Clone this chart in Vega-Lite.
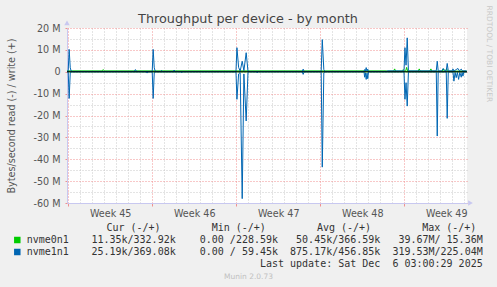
{
  "$schema": "https://vega.github.io/schema/vega-lite/v6.json",
  "width": 400,
  "height": 175,
  "autosize": "none",
  "padding": {"left": 67, "top": 28, "right": 30, "bottom": 84},
  "background": "#f0f0f0",
  "config": {"view": {"stroke": null, "fill": "#ffffff"}, "font": "DejaVu Sans"},
  "title": {"text": "Throughput per device - by month", "font": "DejaVu Sans", "fontSize": 12.8, "fontWeight": "normal", "color": "#444444", "anchor": "middle", "frame": "group", "dx": -19, "dy": 25, "offset": 4},
  "datasets": {
    "series": [
      {"s": "nvme0n1", "d": "write", "day": -0.1, "v": 0.4},
      {"s": "nvme0n1", "d": "write", "day": 2.85, "v": 0.4},
      {"s": "nvme0n1", "d": "write", "day": 2.92, "v": 1.0},
      {"s": "nvme0n1", "d": "write", "day": 3.0, "v": 0.4},
      {"s": "nvme0n1", "d": "write", "day": 26.5, "v": 0.4},
      {"s": "nvme0n1", "d": "write", "day": 26.6, "v": 0.3},
      {"s": "nvme0n1", "d": "write", "day": 27.12, "v": 0.3},
      {"s": "nvme0n1", "d": "write", "day": 27.2, "v": 1.3},
      {"s": "nvme0n1", "d": "write", "day": 27.28, "v": 0.3},
      {"s": "nvme0n1", "d": "write", "day": 27.85, "v": 0.3},
      {"s": "nvme0n1", "d": "write", "day": 27.92, "v": 1.0},
      {"s": "nvme0n1", "d": "write", "day": 28.0, "v": 0.3},
      {"s": "nvme0n1", "d": "write", "day": 28.12, "v": 0.3},
      {"s": "nvme0n1", "d": "write", "day": 28.2, "v": 2.0},
      {"s": "nvme0n1", "d": "write", "day": 28.28, "v": 0.3},
      {"s": "nvme0n1", "d": "write", "day": 29.17, "v": 0.3},
      {"s": "nvme0n1", "d": "write", "day": 29.25, "v": 1.3},
      {"s": "nvme0n1", "d": "write", "day": 29.33, "v": 0.3},
      {"s": "nvme0n1", "d": "write", "day": 30.14, "v": 0.3},
      {"s": "nvme0n1", "d": "write", "day": 30.22, "v": 1.3},
      {"s": "nvme0n1", "d": "write", "day": 30.3, "v": 0.3},
      {"s": "nvme0n1", "d": "write", "day": 31.17, "v": 0.3},
      {"s": "nvme0n1", "d": "write", "day": 31.25, "v": 1.3},
      {"s": "nvme0n1", "d": "write", "day": 31.33, "v": 0.3},
      {"s": "nvme0n1", "d": "write", "day": 31.45, "v": 0.3},
      {"s": "nvme0n1", "d": "write", "day": 31.53, "v": 1.5},
      {"s": "nvme0n1", "d": "write", "day": 31.6, "v": 0.3},
      {"s": "nvme0n1", "d": "write", "day": 33.2, "v": 0.3},
      {"s": "nvme0n1", "d": "read", "day": -0.1, "v": -0.05},
      {"s": "nvme0n1", "d": "read", "day": 33.2, "v": -0.05},

      {"s": "nvme1n1", "d": "write", "day": -0.1, "v": 0.15},
      {"s": "nvme1n1", "d": "write", "day": 0.0, "v": 0.3},
      {"s": "nvme1n1", "d": "write", "day": 0.08, "v": 10.2},
      {"s": "nvme1n1", "d": "write", "day": 0.17, "v": 1.8},
      {"s": "nvme1n1", "d": "write", "day": 0.25, "v": 0.3},
      {"s": "nvme1n1", "d": "write", "day": 0.33, "v": 0.15},
      {"s": "nvme1n1", "d": "write", "day": 5.5, "v": 0.15},
      {"s": "nvme1n1", "d": "write", "day": 5.6, "v": 1.0},
      {"s": "nvme1n1", "d": "write", "day": 5.7, "v": 0.15},
      {"s": "nvme1n1", "d": "write", "day": 7.0, "v": 0.15},
      {"s": "nvme1n1", "d": "write", "day": 7.08, "v": 10.2},
      {"s": "nvme1n1", "d": "write", "day": 7.17, "v": 1.8},
      {"s": "nvme1n1", "d": "write", "day": 7.25, "v": 0.3},
      {"s": "nvme1n1", "d": "write", "day": 7.33, "v": 0.15},
      {"s": "nvme1n1", "d": "write", "day": 7.7, "v": 0.15},
      {"s": "nvme1n1", "d": "write", "day": 7.78, "v": 0.6},
      {"s": "nvme1n1", "d": "write", "day": 7.86, "v": 0.15},
      {"s": "nvme1n1", "d": "write", "day": 8.75, "v": 0.15},
      {"s": "nvme1n1", "d": "write", "day": 8.83, "v": 0.8},
      {"s": "nvme1n1", "d": "write", "day": 8.91, "v": 0.15},
      {"s": "nvme1n1", "d": "write", "day": 13.98, "v": 0.15},
      {"s": "nvme1n1", "d": "write", "day": 14.06, "v": 11.0},
      {"s": "nvme1n1", "d": "write", "day": 14.2, "v": 2.0},
      {"s": "nvme1n1", "d": "write", "day": 14.33, "v": 0.3},
      {"s": "nvme1n1", "d": "write", "day": 14.5, "v": 4.8},
      {"s": "nvme1n1", "d": "write", "day": 14.64, "v": 0.5},
      {"s": "nvme1n1", "d": "write", "day": 14.83, "v": 8.7},
      {"s": "nvme1n1", "d": "write", "day": 14.98, "v": 0.3},
      {"s": "nvme1n1", "d": "write", "day": 15.06, "v": 0.15},
      {"s": "nvme1n1", "d": "write", "day": 19.5, "v": 0.15},
      {"s": "nvme1n1", "d": "write", "day": 19.58, "v": 1.2},
      {"s": "nvme1n1", "d": "write", "day": 19.66, "v": 0.15},
      {"s": "nvme1n1", "d": "write", "day": 21.08, "v": 0.15},
      {"s": "nvme1n1", "d": "write", "day": 21.17, "v": 14.7},
      {"s": "nvme1n1", "d": "write", "day": 21.3, "v": 1.0},
      {"s": "nvme1n1", "d": "write", "day": 21.4, "v": 0.15},
      {"s": "nvme1n1", "d": "write", "day": 24.65, "v": 0.15},
      {"s": "nvme1n1", "d": "write", "day": 24.7, "v": 1.0},
      {"s": "nvme1n1", "d": "write", "day": 24.76, "v": 0.3},
      {"s": "nvme1n1", "d": "write", "day": 24.83, "v": 1.9},
      {"s": "nvme1n1", "d": "write", "day": 24.9, "v": 0.3},
      {"s": "nvme1n1", "d": "write", "day": 24.96, "v": 1.2},
      {"s": "nvme1n1", "d": "write", "day": 25.02, "v": 0.15},
      {"s": "nvme1n1", "d": "write", "day": 26.5, "v": 0.15},
      {"s": "nvme1n1", "d": "write", "day": 26.6, "v": 0.4},
      {"s": "nvme1n1", "d": "write", "day": 27.98, "v": 0.4},
      {"s": "nvme1n1", "d": "write", "day": 28.06, "v": 11.0},
      {"s": "nvme1n1", "d": "write", "day": 28.15, "v": 3.0},
      {"s": "nvme1n1", "d": "write", "day": 28.25, "v": 15.5},
      {"s": "nvme1n1", "d": "write", "day": 28.35, "v": 0.4},
      {"s": "nvme1n1", "d": "write", "day": 30.67, "v": 0.4},
      {"s": "nvme1n1", "d": "write", "day": 30.75, "v": 4.8},
      {"s": "nvme1n1", "d": "write", "day": 30.83, "v": 0.4},
      {"s": "nvme1n1", "d": "write", "day": 31.12, "v": 0.4},
      {"s": "nvme1n1", "d": "write", "day": 31.25, "v": 1.5},
      {"s": "nvme1n1", "d": "write", "day": 31.4, "v": 0.4},
      {"s": "nvme1n1", "d": "write", "day": 31.5, "v": 0.4},
      {"s": "nvme1n1", "d": "write", "day": 31.58, "v": 3.8},
      {"s": "nvme1n1", "d": "write", "day": 31.67, "v": 0.4},
      {"s": "nvme1n1", "d": "write", "day": 32.0, "v": 0.4},
      {"s": "nvme1n1", "d": "write", "day": 32.06, "v": 1.3},
      {"s": "nvme1n1", "d": "write", "day": 32.14, "v": 0.3},
      {"s": "nvme1n1", "d": "write", "day": 32.33, "v": 1.0},
      {"s": "nvme1n1", "d": "write", "day": 32.48, "v": 1.5},
      {"s": "nvme1n1", "d": "write", "day": 32.6, "v": 0.4},
      {"s": "nvme1n1", "d": "write", "day": 32.75, "v": 1.2},
      {"s": "nvme1n1", "d": "write", "day": 32.85, "v": 0.4},
      {"s": "nvme1n1", "d": "write", "day": 33.2, "v": 0.4},

      {"s": "nvme1n1", "d": "read", "day": -0.1, "v": -0.05},
      {"s": "nvme1n1", "d": "read", "day": 0.0, "v": -0.05},
      {"s": "nvme1n1", "d": "read", "day": 0.08, "v": -12.2},
      {"s": "nvme1n1", "d": "read", "day": 0.17, "v": -0.5},
      {"s": "nvme1n1", "d": "read", "day": 0.25, "v": -0.05},
      {"s": "nvme1n1", "d": "read", "day": 6.5, "v": -0.05},
      {"s": "nvme1n1", "d": "read", "day": 6.58, "v": -0.6},
      {"s": "nvme1n1", "d": "read", "day": 6.66, "v": -0.05},
      {"s": "nvme1n1", "d": "read", "day": 7.0, "v": -0.05},
      {"s": "nvme1n1", "d": "read", "day": 7.08, "v": -12.2},
      {"s": "nvme1n1", "d": "read", "day": 7.17, "v": -0.5},
      {"s": "nvme1n1", "d": "read", "day": 7.25, "v": -0.05},
      {"s": "nvme1n1", "d": "read", "day": 9.37, "v": -0.05},
      {"s": "nvme1n1", "d": "read", "day": 9.45, "v": -0.5},
      {"s": "nvme1n1", "d": "read", "day": 9.53, "v": -0.05},
      {"s": "nvme1n1", "d": "read", "day": 13.98, "v": -0.05},
      {"s": "nvme1n1", "d": "read", "day": 14.06, "v": -12.6},
      {"s": "nvme1n1", "d": "read", "day": 14.2, "v": -1.0},
      {"s": "nvme1n1", "d": "read", "day": 14.33, "v": -0.3},
      {"s": "nvme1n1", "d": "read", "day": 14.5, "v": -58.0},
      {"s": "nvme1n1", "d": "read", "day": 14.64, "v": -1.0},
      {"s": "nvme1n1", "d": "read", "day": 14.83, "v": -22.5},
      {"s": "nvme1n1", "d": "read", "day": 14.98, "v": -0.3},
      {"s": "nvme1n1", "d": "read", "day": 15.06, "v": -0.05},
      {"s": "nvme1n1", "d": "read", "day": 15.67, "v": -0.05},
      {"s": "nvme1n1", "d": "read", "day": 15.75, "v": -0.5},
      {"s": "nvme1n1", "d": "read", "day": 15.83, "v": -0.05},
      {"s": "nvme1n1", "d": "read", "day": 19.5, "v": -0.05},
      {"s": "nvme1n1", "d": "read", "day": 19.58, "v": -1.2},
      {"s": "nvme1n1", "d": "read", "day": 19.66, "v": -0.05},
      {"s": "nvme1n1", "d": "read", "day": 21.08, "v": -0.05},
      {"s": "nvme1n1", "d": "read", "day": 21.17, "v": -43.6},
      {"s": "nvme1n1", "d": "read", "day": 21.3, "v": -0.5},
      {"s": "nvme1n1", "d": "read", "day": 21.4, "v": -0.05},
      {"s": "nvme1n1", "d": "read", "day": 24.65, "v": -0.05},
      {"s": "nvme1n1", "d": "read", "day": 24.7, "v": -2.5},
      {"s": "nvme1n1", "d": "read", "day": 24.76, "v": -0.5},
      {"s": "nvme1n1", "d": "read", "day": 24.83, "v": -3.5},
      {"s": "nvme1n1", "d": "read", "day": 24.9, "v": -0.6},
      {"s": "nvme1n1", "d": "read", "day": 24.96, "v": -3.2},
      {"s": "nvme1n1", "d": "read", "day": 25.02, "v": -0.05},
      {"s": "nvme1n1", "d": "read", "day": 27.98, "v": -0.05},
      {"s": "nvme1n1", "d": "read", "day": 28.06, "v": -12.6},
      {"s": "nvme1n1", "d": "read", "day": 28.15, "v": -5.0},
      {"s": "nvme1n1", "d": "read", "day": 28.25, "v": -15.7},
      {"s": "nvme1n1", "d": "read", "day": 28.35, "v": -0.05},
      {"s": "nvme1n1", "d": "read", "day": 30.67, "v": -0.05},
      {"s": "nvme1n1", "d": "read", "day": 30.75, "v": -29.4},
      {"s": "nvme1n1", "d": "read", "day": 30.83, "v": -0.05},
      {"s": "nvme1n1", "d": "read", "day": 31.5, "v": -0.05},
      {"s": "nvme1n1", "d": "read", "day": 31.58, "v": -21.3},
      {"s": "nvme1n1", "d": "read", "day": 31.67, "v": -0.05},
      {"s": "nvme1n1", "d": "read", "day": 32.06, "v": -0.05},
      {"s": "nvme1n1", "d": "read", "day": 32.14, "v": -4.3},
      {"s": "nvme1n1", "d": "read", "day": 32.24, "v": -0.3},
      {"s": "nvme1n1", "d": "read", "day": 32.33, "v": -2.7},
      {"s": "nvme1n1", "d": "read", "day": 32.43, "v": -0.3},
      {"s": "nvme1n1", "d": "read", "day": 32.53, "v": -3.5},
      {"s": "nvme1n1", "d": "read", "day": 32.63, "v": -0.3},
      {"s": "nvme1n1", "d": "read", "day": 32.75, "v": -2.5},
      {"s": "nvme1n1", "d": "read", "day": 32.82, "v": -0.3},
      {"s": "nvme1n1", "d": "read", "day": 32.89, "v": -2.0},
      {"s": "nvme1n1", "d": "read", "day": 32.97, "v": -0.1},
      {"s": "nvme1n1", "d": "read", "day": 33.2, "v": -0.1}
    ]
  },
  "layer": [
    {
      "data": {"name": "series"},
      "layer": [
        {
          "transform": [{"filter": "datum.s === 'nvme0n1'"}],
          "mark": {"type": "line", "strokeWidth": 1, "clip": true},
          "encoding": {
            "x": {"field": "day", "type": "quantitative",
              "scale": {"domain": [-0.1, 33.23], "nice": false, "zero": false},
              "axis": {"orient": "bottom", "values": [0, 7, 14, 21, 28],
                "labelExpr": "'Week ' + (45 + datum.value / 7)",
                "labelOffset": 42, "labelFont": "DejaVu Sans", "labelFontSize": 9.6, "labelColor": "#555555",
                "labelPadding": 2, "labelFlush": false, "labelOverlap": false,
                "grid": true, "gridColor": "#f09090", "gridDash": [1, 2],
                "ticks": true, "tickColor": "#f09090", "tickSize": 3,
                "domainColor": "#c8c8f0",
                "title": "Munin 2.0.73", "titleFont": "DejaVu Sans", "titleFontSize": 7.5, "titleFontWeight": "normal",
                "titleColor": "#c0c0c0", "titleX": 181, "titleY": 73.3, "titleAlign": "center", "titleBaseline": "middle"}},
            "y": {"field": "v", "type": "quantitative",
              "scale": {"domain": [-60, 20], "nice": false, "zero": false},
              "axis": {"orient": "left", "values": [-60, -50, -40, -30, -20, -10, 0, 10, 20],
                "labelExpr": "datum.value === 0 ? '0' : datum.value + ' M'",
                "labelFont": "DejaVu Sans", "labelFontSize": 9.6, "labelColor": "#555555", "labelPadding": 5,
                "labelFlush": false, "labelOverlap": false,
                "grid": true, "gridColor": "#f09090", "gridDash": [1, 2],
                "tickColor": "#f09090", "tickSize": 2, "domainColor": "#c8c8f0",
                "title": "Bytes/second read (-) / write (+)", "titleFont": "DejaVu Sans", "titleFontSize": 9.6,
                "titleFontWeight": "normal", "titleColor": "#555555", "titleX": -56, "titleY": 87.5,
                "titleAngle": 270, "titleAlign": "center", "titleBaseline": "middle"}},
            "color": {"field": "s", "type": "nominal",
              "scale": {"domain": ["nvme0n1", "nvme1n1"], "range": ["#00cc00", "#0066b3"]}, "legend": null},
            "detail": {"field": "d", "type": "nominal"}
          }
        },
        {
          "transform": [{"filter": "datum.s === 'nvme1n1'"}],
          "mark": {"type": "line", "strokeWidth": 1, "clip": true},
          "encoding": {
            "x": {"field": "day", "type": "quantitative", "axis": null},
            "y": {"field": "v", "type": "quantitative", "axis": null},
            "color": {"field": "s", "type": "nominal", "legend": null},
            "detail": {"field": "d", "type": "nominal"}
          }
        },
        {
          "data": {"values": [{"level": 0}]},
          "mark": {"type": "rule", "color": "#000000", "strokeWidth": 1},
          "encoding": {
            "x": {"datum": -0.1, "type": "quantitative",
              "axis": {"orient": "top", "values": [1, 2, 3, 4, 5, 6, 8, 9, 10, 11, 12, 13, 15, 16, 17, 18, 19, 20, 22, 23, 24, 25, 26, 27, 29, 30, 31, 32, 33],
                "grid": true, "gridColor": "#c8c8c8", "gridDash": [1, 2], "labels": false, "ticks": false, "domain": false, "title": null}},
            "x2": {"datum": 33.23},
            "y": {"field": "level", "type": "quantitative",
              "axis": {"orient": "right", "values": [-55, -45, -35, -25, -15, -5, 5, 15],
                "grid": true, "gridColor": "#c8c8c8", "gridDash": [1, 2], "labels": false, "ticks": false, "domain": false,
                "title": "RRDTOOL / TOBI OETIKER", "titleFont": "DejaVu Sans", "titleFontSize": 7.5, "titleFontWeight": "normal",
                "titleColor": "#c8c8c8", "titleAngle": 90, "titleX": 21, "titleY": -23, "titleAlign": "left", "titleBaseline": "middle"}}
          }
        },
        {
          "data": {"values": [{}]},
          "mark": {"type": "point", "shape": "triangle-up", "filled": true, "color": "#c8c8f0", "size": 30, "opacity": 1},
          "encoding": {
            "x": {"datum": -0.1, "type": "quantitative", "axis": null},
            "y": {"datum": 22.3, "type": "quantitative", "axis": null}
          }
        },
        {
          "data": {"values": [{}]},
          "mark": {"type": "point", "shape": "triangle-right", "filled": true, "color": "#c8c8f0", "size": 30, "opacity": 1},
          "encoding": {
            "x": {"datum": 33.52, "type": "quantitative", "axis": null},
            "y": {"datum": -60, "type": "quantitative", "axis": null}
          }
        }
      ],
      "resolve": {"axis": {"x": "independent", "y": "independent"}}
    },
    {
      "data": {"values": [
        {"row": "header", "col": "Cur", "label": "Cur (-/+)"},
        {"row": "header", "col": "Min", "label": "Min (-/+)"},
        {"row": "header", "col": "Avg", "label": "Avg (-/+)"},
        {"row": "header", "col": "Max", "label": "Max (-/+)"}
      ]},
      "mark": {"type": "text", "font": "DejaVu Sans Mono", "fontSize": 10, "color": "#333333", "align": "center", "baseline": "middle"},
      "encoding": {
        "x": {"field": "col", "type": "nominal", "scale": {"type": "point", "domain": ["Cur", "Min", "Avg", "Max"], "range": [66.5, 382.3], "padding": 0}, "axis": null},
        "y": {"field": "row", "type": "nominal", "scale": {"type": "point", "domain": ["header"], "range": [199.8, 199.8], "padding": 0}, "axis": null},
        "text": {"field": "label"}
      }
    },
    {
      "data": {"values": [
        {"row": "nvme0n1", "col": "Cur", "label": "11.35k/332.92k"},
        {"row": "nvme0n1", "col": "Min", "label": "0.00 /228.59k"},
        {"row": "nvme0n1", "col": "Avg", "label": "50.45k/366.59k"},
        {"row": "nvme0n1", "col": "Max", "label": "39.67M/ 15.36M"},
        {"row": "nvme1n1", "col": "Cur", "label": "25.19k/369.08k"},
        {"row": "nvme1n1", "col": "Min", "label": "0.00 / 59.45k"},
        {"row": "nvme1n1", "col": "Avg", "label": "875.17k/456.85k"},
        {"row": "nvme1n1", "col": "Max", "label": "319.53M/225.04M"},
        {"row": "update", "col": "Max", "label": "Last update: Sat Dec \u00a06 03:00:29 2025"}
      ]},
      "mark": {"type": "text", "font": "DejaVu Sans Mono", "fontSize": 10, "color": "#333333", "align": "right", "baseline": "middle"},
      "encoding": {
        "x": {"field": "col", "type": "nominal", "scale": {"type": "point", "domain": ["Cur", "Min", "Avg", "Max"], "range": [108.7, 415.7], "padding": 0}, "axis": null},
        "y": {"field": "row", "type": "nominal", "scale": {"type": "point", "domain": ["nvme0n1", "nvme1n1", "update"], "range": [212, 236], "padding": 0}, "axis": null},
        "text": {"field": "label"}
      }
    },
    {
      "data": {"values": [{"series": "nvme0n1"}, {"series": "nvme1n1"}]},
      "layer": [
        {
          "mark": {"type": "square", "filled": true, "size": 42, "opacity": 1},
          "encoding": {
            "x": {"datum": "swatch", "type": "nominal", "scale": {"type": "point", "domain": ["swatch", "name"], "range": [-49.7, -40.3], "padding": 0}, "axis": null},
            "y": {"field": "series", "type": "nominal", "scale": {"type": "point", "domain": ["nvme0n1", "nvme1n1"], "range": [212, 224], "padding": 0}, "axis": null},
            "color": {"field": "series", "type": "nominal", "scale": {"domain": ["nvme0n1", "nvme1n1"], "range": ["#00cc00", "#0066b3"]}, "legend": null}
          }
        },
        {
          "mark": {"type": "text", "font": "DejaVu Sans Mono", "fontSize": 10, "color": "#333333", "align": "left", "baseline": "middle"},
          "encoding": {
            "x": {"datum": "name", "type": "nominal", "axis": null},
            "y": {"field": "series", "type": "nominal", "axis": null},
            "text": {"field": "series"}
          }
        }
      ]
    }
  ],
  "resolve": {"scale": {"x": "independent", "y": "independent", "color": "independent"}}
}
